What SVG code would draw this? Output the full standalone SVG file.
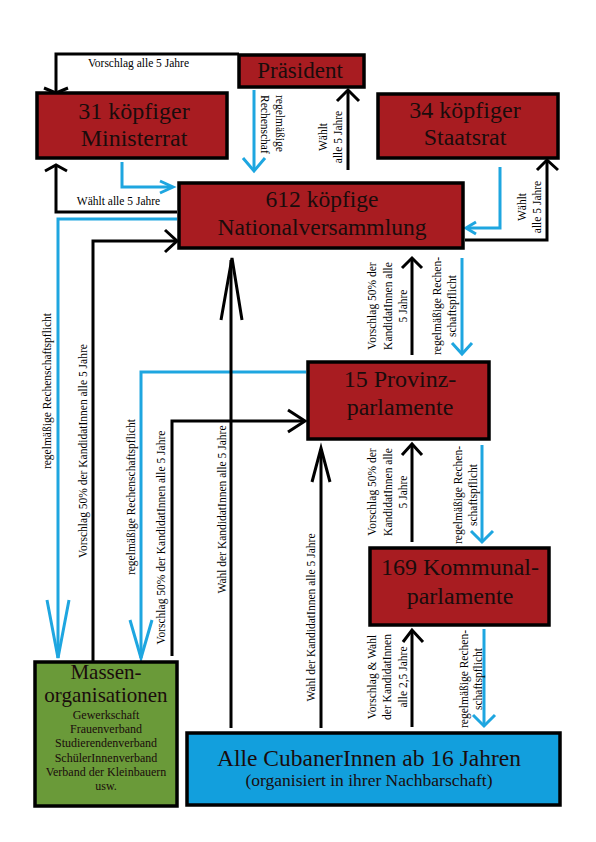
<svg xmlns="http://www.w3.org/2000/svg" width="596" height="842" viewBox="0 0 596 842">
<style>
.box{stroke:#000;stroke-width:3.5}
.red{fill:#a81c21}
.green{fill:#6a9a39}
.blue{fill:#129fdd}
.t{font-family:"Liberation Serif","DejaVu Serif",serif;fill:#1a0c0c;text-anchor:middle}
.big{font-size:24px}
.lb{font-family:"Liberation Serif","DejaVu Serif",serif;font-size:11.5px;fill:#000}
.m{text-anchor:middle}
.k{fill:none;stroke:#000;stroke-width:3}
.b{fill:none;stroke:#1ea6e0;stroke-width:3}
</style>
<rect width="596" height="842" fill="#fff"/>
<g id="connectors">
  <!-- Präsident -> Ministerrat -->
  <path class="k" d="M239,54 H56 V92"/>
  <polyline class="k" points="44,88 56,93 68,88"/>
  <text class="lb m" x="138.5" y="67">Vorschlag alle 5 Jahre</text>
  <!-- NV -> Ministerrat -->
  <path class="k" d="M177,212 H56 V166"/>
  <polyline class="k" points="45,171 56,165 67,171"/>
  <text class="lb m" x="118.5" y="205">Wählt alle 5 Jahre</text>
  <!-- Ministerrat -> NV (blue) -->
  <path class="b" d="M122,162 V187 H172"/>
  <polyline class="b" points="160,181 173,187 160,193"/>
  <!-- Präsident -> NV (blue) -->
  <path class="b" d="M254,90 V170"/>
  <polyline class="b" points="243,158 254,171 265,158"/>
  <text class="lb" transform="translate(275.5,95) rotate(90)"><tspan x="0" y="0">regelmäßige</tspan><tspan x="0" y="15">Rechenschaf</tspan></text>
  <!-- NV -> Präsident -->
  <path class="k" d="M348,170 V92"/>
  <polyline class="k" points="337,101 348,90 359,101"/>
  <text class="lb m" transform="translate(326.5,137) rotate(-90)"><tspan x="0" y="0">Wählt</tspan><tspan x="0" y="15">alle 5 Jahre</tspan></text>
  <!-- NV -> Staatsrat -->
  <path class="k" d="M465,240 H547 V161"/>
  <polyline class="k" points="537,170 547,160 558,170"/>
  <text class="lb m" transform="translate(525.5,207) rotate(-90)"><tspan x="0" y="0">Wählt</tspan><tspan x="0" y="15">alle 5 Jahre</tspan></text>
  <!-- Staatsrat -> NV (blue) -->
  <path class="b" d="M500,167 V228 H467"/>
  <polyline class="b" points="476,222 466,228 476,234"/>
  <!-- NV -> Massen (blue) -->
  <path class="b" d="M177,219 H58 V658"/>
  <polyline class="b" points="47,600 58,658 69,600"/>
  <text class="lb m" transform="translate(51,391) rotate(-90)">regelmäßige Rechenschaftspflicht</text>
  <!-- Massen -> NV -->
  <path class="k" d="M93,662 V241 H175"/>
  <polyline class="k" points="165,230 177,241 165,252"/>
  <text class="lb m" transform="translate(87,451) rotate(-90)">Vorschlag 50% der KandidatInnen alle 5 Jahre</text>
  <!-- Provinz -> Massen (blue) -->
  <path class="b" d="M306,372 H141 V658"/>
  <polyline class="b" points="130,620 141,658 152,620"/>
  <text class="lb m" transform="translate(134.5,497) rotate(-90)">regelmäßige Rechenschaftspflicht</text>
  <!-- Massen -> Provinz -->
  <path class="k" d="M172,656 V421 H304"/>
  <polyline class="k" points="288,410 305,421 288,432"/>
  <text class="lb m" transform="translate(165,537.5) rotate(-90)">Vorschlag 50% der KandidatInnen alle 5 Jahre</text>
  <!-- Cubaner -> NV -->
  <path class="k" d="M231,728 V260"/>
  <polyline class="k" points="221,320 232,258 242,320"/>
  <text class="lb m" transform="translate(226,509.5) rotate(-90)">Wahl der KandidatInnen alle 5 Jahre</text>
  <!-- Cubaner -> Provinz -->
  <path class="k" d="M321,728 V449"/>
  <polyline class="k" points="312,482 321,448 330,482"/>
  <text class="lb m" transform="translate(315,617.5) rotate(-90)">Wahl der KandidatInnen alle 5 Jahre</text>
  <!-- Provinz -> NV -->
  <path class="k" d="M412,355 V259"/>
  <polyline class="k" points="402,268 412,258 422,268"/>
  <text class="lb m" transform="translate(376,306) rotate(-90)"><tspan x="0" y="0">Vorschlag 50% der</tspan><tspan x="0" y="15.5">KandidatInnen alle</tspan><tspan x="0" y="31">5 Jahre</tspan></text>
  <!-- NV -> Provinz (blue) -->
  <path class="b" d="M462,258 V354"/>
  <polyline class="b" points="452,343 462,354 472,343"/>
  <text class="lb m" transform="translate(440.5,306) rotate(-90)"><tspan x="0" y="0">regelmäßige Rechen-</tspan><tspan x="0" y="15">schaftspflicht</tspan></text>
  <!-- Kommunal -> Provinz -->
  <path class="k" d="M412,542 V445"/>
  <polyline class="k" points="402,455 412,444 422,455"/>
  <text class="lb m" transform="translate(376,492) rotate(-90)"><tspan x="0" y="0">Vorschlag 50% der</tspan><tspan x="0" y="15.5">KandidatInnen alle</tspan><tspan x="0" y="31">5 Jahre</tspan></text>
  <!-- Provinz -> Kommunal (blue) -->
  <path class="b" d="M482,445 V542"/>
  <polyline class="b" points="471,531 482,542 493,531"/>
  <text class="lb m" transform="translate(461.5,495) rotate(-90)"><tspan x="0" y="0">regelmäßige Rechen-</tspan><tspan x="0" y="15">schaftspflicht</tspan></text>
  <!-- Cubaner -> Kommunal -->
  <path class="k" d="M412,727 V631"/>
  <polyline class="k" points="403,642 412,630 423,642"/>
  <text class="lb m" transform="translate(375.5,677) rotate(-90)"><tspan x="0" y="0">Vorschlag &amp; Wahl</tspan><tspan x="0" y="15.5">der KandidatInnen</tspan><tspan x="0" y="31">alle 2,5 Jahre</tspan></text>
  <!-- Kommunal -> Cubaner (blue) -->
  <path class="b" d="M484,629 V726"/>
  <polyline class="b" points="473,715 484,726 495,715"/>
  <text class="lb m" transform="translate(467.5,679) rotate(-90)"><tspan x="0" y="0">regelmäßige Rechen-</tspan><tspan x="0" y="14.5">schaftspflicht</tspan></text>
</g>
<g id="praesident">
  <rect class="box red" x="239" y="55" width="125" height="32"/>
  <text class="t" x="300" y="78" font-size="23">Präsident</text>
</g>
<g id="ministerrat">
  <rect class="box red" x="37" y="93" width="190" height="65"/>
  <text class="t big" x="134" y="119">31 köpfiger</text>
  <text class="t big" x="134" y="146">Ministerrat</text>
</g>
<g id="staatsrat">
  <rect class="box red" x="378" y="94" width="180" height="64"/>
  <text class="t big" x="465" y="118">34 köpfiger</text>
  <text class="t big" x="465" y="145">Staatsrat</text>
</g>
<g id="nationalversammlung">
  <rect class="box red" x="179" y="183" width="284" height="65"/>
  <text class="t" x="322" y="207" font-size="23.5">612 köpfige</text>
  <text class="t" x="322" y="235" font-size="23.5">Nationalversammlung</text>
</g>
<g id="provinzparlamente">
  <rect class="box red" x="308" y="362" width="181" height="77"/>
  <text class="t big" x="400" y="387">15 Provinz-</text>
  <text class="t big" x="400" y="415">parlamente</text>
</g>
<g id="kommunalparlamente">
  <rect class="box red" x="370" y="548" width="179" height="77"/>
  <text class="t big" x="460" y="575">169 Kommunal-</text>
  <text class="t big" x="460" y="604">parlamente</text>
</g>
<g id="massenorganisationen">
  <rect class="box green" x="35" y="662" width="142" height="144"/>
  <text class="t" x="106" y="679" font-size="21">Massen-</text>
  <text class="t" x="106" y="702" font-size="21">organisationen</text>
  <g class="t" font-size="12">
    <text x="106" y="719">Gewerkschaft</text>
    <text x="106" y="733">Frauenverband</text>
    <text x="106" y="747">Studierendenverband</text>
    <text x="106" y="762">SchülerInnenverband</text>
    <text x="106" y="776">Verband der Kleinbauern</text>
    <text x="106" y="790">usw.</text>
  </g>
</g>
<g id="cubanerinnen">
  <rect class="box blue" x="187" y="733" width="373" height="72"/>
  <text class="t" x="369" y="766" font-size="23.5" fill="#0a1020">Alle CubanerInnen ab 16 Jahren</text>
  <text class="t" x="369" y="786" font-size="17.5">(organisiert in ihrer Nachbarschaft)</text>
</g>
</svg>
